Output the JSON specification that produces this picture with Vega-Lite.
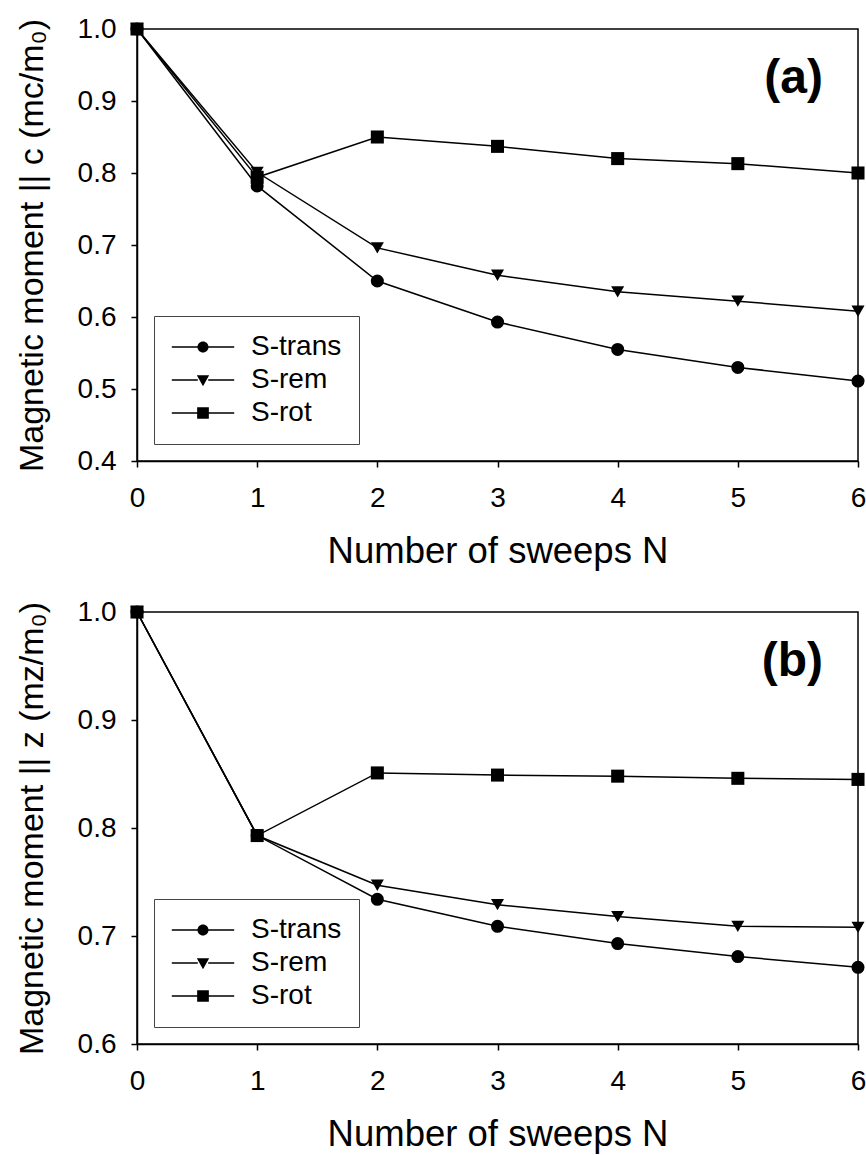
{
  "$schema": "https://vega.github.io/schema/vega-lite/v6.json",
  "background": "white",
  "padding": {"left": 14, "top": 14, "right": 5, "bottom": 0},
  "spacing": 26,
  "datasets": {
    "a": [
      {"series": "S-trans", "N": 0, "m": 1.0},
      {"series": "S-trans", "N": 1, "m": 0.782},
      {"series": "S-trans", "N": 2, "m": 0.65},
      {"series": "S-trans", "N": 3, "m": 0.593},
      {"series": "S-trans", "N": 4, "m": 0.555},
      {"series": "S-trans", "N": 5, "m": 0.53},
      {"series": "S-trans", "N": 6, "m": 0.511},
      {"series": "S-rem", "N": 0, "m": 1.0},
      {"series": "S-rem", "N": 1, "m": 0.801},
      {"series": "S-rem", "N": 2, "m": 0.696},
      {"series": "S-rem", "N": 3, "m": 0.658},
      {"series": "S-rem", "N": 4, "m": 0.635},
      {"series": "S-rem", "N": 5, "m": 0.622},
      {"series": "S-rem", "N": 6, "m": 0.608},
      {"series": "S-rot", "N": 0, "m": 1.0},
      {"series": "S-rot", "N": 1, "m": 0.794},
      {"series": "S-rot", "N": 2, "m": 0.85},
      {"series": "S-rot", "N": 3, "m": 0.837},
      {"series": "S-rot", "N": 4, "m": 0.82},
      {"series": "S-rot", "N": 5, "m": 0.813},
      {"series": "S-rot", "N": 6, "m": 0.8}
    ],
    "b": [
      {"series": "S-trans", "N": 0, "m": 1.0},
      {"series": "S-trans", "N": 1, "m": 0.793},
      {"series": "S-trans", "N": 2, "m": 0.734},
      {"series": "S-trans", "N": 3, "m": 0.709},
      {"series": "S-trans", "N": 4, "m": 0.693},
      {"series": "S-trans", "N": 5, "m": 0.681},
      {"series": "S-trans", "N": 6, "m": 0.671},
      {"series": "S-rem", "N": 0, "m": 1.0},
      {"series": "S-rem", "N": 1, "m": 0.793},
      {"series": "S-rem", "N": 2, "m": 0.747},
      {"series": "S-rem", "N": 3, "m": 0.729},
      {"series": "S-rem", "N": 4, "m": 0.718},
      {"series": "S-rem", "N": 5, "m": 0.709},
      {"series": "S-rem", "N": 6, "m": 0.708},
      {"series": "S-rot", "N": 0, "m": 1.0},
      {"series": "S-rot", "N": 1, "m": 0.793},
      {"series": "S-rot", "N": 2, "m": 0.851},
      {"series": "S-rot", "N": 3, "m": 0.849},
      {"series": "S-rot", "N": 4, "m": 0.848},
      {"series": "S-rot", "N": 5, "m": 0.846},
      {"series": "S-rot", "N": 6, "m": 0.845}
    ]
  },
  "vconcat": [
    {
      "width": 721,
      "height": 432,
      "data": {"name": "a"},
      "title": {"text": "(a)", "anchor": "end", "frame": "group", "offset": -88, "dx": -35, "fontSize": 48, "fontWeight": "bold", "font": "Liberation Sans", "color": "black"},
      "layer": [
        {
          "mark": {"type": "line", "color": "black", "strokeWidth": 1.5},
          "encoding": {
            "x": {"field": "N", "type": "quantitative", "scale": {"domain": [0, 6], "nice": false}, "axis": {"values": [0, 1, 2, 3, 4, 5, 6], "format": "d", "labelFlush": false, "title": "Number of sweeps N", "titleFontSize": 36.5, "labelPadding": 17, "titlePadding": 21}},
            "y": {"field": "m", "type": "quantitative", "scale": {"domain": [0.4, 1.0], "nice": false, "zero": false}, "axis": {"values": [0.4, 0.5, 0.6, 0.7, 0.8, 0.9, 1.0], "format": ".1f", "labelFlush": false, "title": "Magnetic moment || c (mc/m₀)", "titleFontSize": 34, "labelPadding": 15, "titlePadding": 28}},
            "detail": {"field": "series"}
          }
        },
        {
          "mark": {"type": "point", "filled": true, "color": "black", "size": 170, "opacity": 1},
          "encoding": {
            "x": {"field": "N", "type": "quantitative"},
            "y": {"field": "m", "type": "quantitative"},
            "shape": {"field": "series", "type": "nominal", "scale": {"domain": ["S-trans", "S-rem", "S-rot"], "range": ["circle", "triangle-down", "square"]}, "legend": null}
          }
        },
        {
          "mark": {"type": "point", "filled": true, "color": "black", "opacity": 0},
          "encoding": {
            "x": {"field": "N", "type": "quantitative"},
            "y": {"field": "m", "type": "quantitative"},
            "shape": {"field": "series", "type": "nominal",
              "scale": {"domain": ["S-trans", "S-rem", "S-rot"], "range": [
                "M-4.8,-0.12H-0.8V0.12H-4.8Z M0.8,-0.12H4.8V0.12H0.8Z M-0.85,0A0.85,0.85 0 1,1 0.85,0A0.85,0.85 0 1,1 -0.85,0Z",
                "M-4.8,-0.12H-0.8V0.12H-4.8Z M0.8,-0.12H4.8V0.12H0.8Z M-0.95,-0.75H0.95L0,0.95Z",
                "M-4.8,-0.12H-0.8V0.12H-4.8Z M0.8,-0.12H4.8V0.12H0.8Z M-0.9,-0.9H0.9V0.9H-0.9Z"
              ]},
              "legend": {"title": null, "orient": "bottom-left", "offset": 17, "symbolSize": 169, "symbolOffset": 18, "labelOffset": 34, "labelFont": "Liberation Sans", "labelFontSize": 28, "labelColor": "black", "symbolFillColor": "black", "symbolStrokeColor": "black", "symbolStrokeWidth": 0, "symbolOpacity": 1, "strokeColor": "#444", "fillColor": "white", "padding": 17, "rowPadding": 5, "labelLimit": 300}
            }
          }
        }
      ],
      "resolve": {"scale": {"shape": "independent"}}
    },
    {
      "width": 721,
      "height": 432,
      "data": {"name": "b"},
      "title": {"text": "(b)", "anchor": "end", "frame": "group", "offset": -88, "dx": -35, "fontSize": 48, "fontWeight": "bold", "font": "Liberation Sans", "color": "black"},
      "layer": [
        {
          "mark": {"type": "line", "color": "black", "strokeWidth": 1.5},
          "encoding": {
            "x": {"field": "N", "type": "quantitative", "scale": {"domain": [0, 6], "nice": false}, "axis": {"values": [0, 1, 2, 3, 4, 5, 6], "format": "d", "labelFlush": false, "title": "Number of sweeps N", "titleFontSize": 36.5, "labelPadding": 17, "titlePadding": 21}},
            "y": {"field": "m", "type": "quantitative", "scale": {"domain": [0.6, 1.0], "nice": false, "zero": false}, "axis": {"values": [0.6, 0.7, 0.8, 0.9, 1.0], "format": ".1f", "labelFlush": false, "title": "Magnetic moment || z (mz/m₀)", "titleFontSize": 34, "labelPadding": 15, "titlePadding": 28}},
            "detail": {"field": "series"}
          }
        },
        {
          "mark": {"type": "point", "filled": true, "color": "black", "size": 170, "opacity": 1},
          "encoding": {
            "x": {"field": "N", "type": "quantitative"},
            "y": {"field": "m", "type": "quantitative"},
            "shape": {"field": "series", "type": "nominal", "scale": {"domain": ["S-trans", "S-rem", "S-rot"], "range": ["circle", "triangle-down", "square"]}, "legend": null}
          }
        },
        {
          "mark": {"type": "point", "filled": true, "color": "black", "opacity": 0},
          "encoding": {
            "x": {"field": "N", "type": "quantitative"},
            "y": {"field": "m", "type": "quantitative"},
            "shape": {"field": "series", "type": "nominal",
              "scale": {"domain": ["S-trans", "S-rem", "S-rot"], "range": [
                "M-4.8,-0.12H-0.8V0.12H-4.8Z M0.8,-0.12H4.8V0.12H0.8Z M-0.85,0A0.85,0.85 0 1,1 0.85,0A0.85,0.85 0 1,1 -0.85,0Z",
                "M-4.8,-0.12H-0.8V0.12H-4.8Z M0.8,-0.12H4.8V0.12H0.8Z M-0.95,-0.75H0.95L0,0.95Z",
                "M-4.8,-0.12H-0.8V0.12H-4.8Z M0.8,-0.12H4.8V0.12H0.8Z M-0.9,-0.9H0.9V0.9H-0.9Z"
              ]},
              "legend": {"title": null, "orient": "bottom-left", "offset": 17, "symbolSize": 169, "symbolOffset": 18, "labelOffset": 34, "labelFont": "Liberation Sans", "labelFontSize": 28, "labelColor": "black", "symbolFillColor": "black", "symbolStrokeColor": "black", "symbolStrokeWidth": 0, "symbolOpacity": 1, "strokeColor": "#444", "fillColor": "white", "padding": 17, "rowPadding": 5, "labelLimit": 300}
            }
          }
        }
      ],
      "resolve": {"scale": {"shape": "independent"}}
    }
  ],
  "config": {
    "font": "Liberation Sans",
    "view": {"stroke": "black", "strokeWidth": 1.5},
    "axis": {"domainColor": "black", "domainWidth": 1.5, "tickColor": "black", "tickWidth": 1.5, "tickSize": 6, "labelFont": "Liberation Sans", "labelFontSize": 28, "labelColor": "black", "titleFont": "Liberation Sans", "titleFontSize": 35, "titleFontWeight": "normal", "titleColor": "black", "grid": false}
  }
}
